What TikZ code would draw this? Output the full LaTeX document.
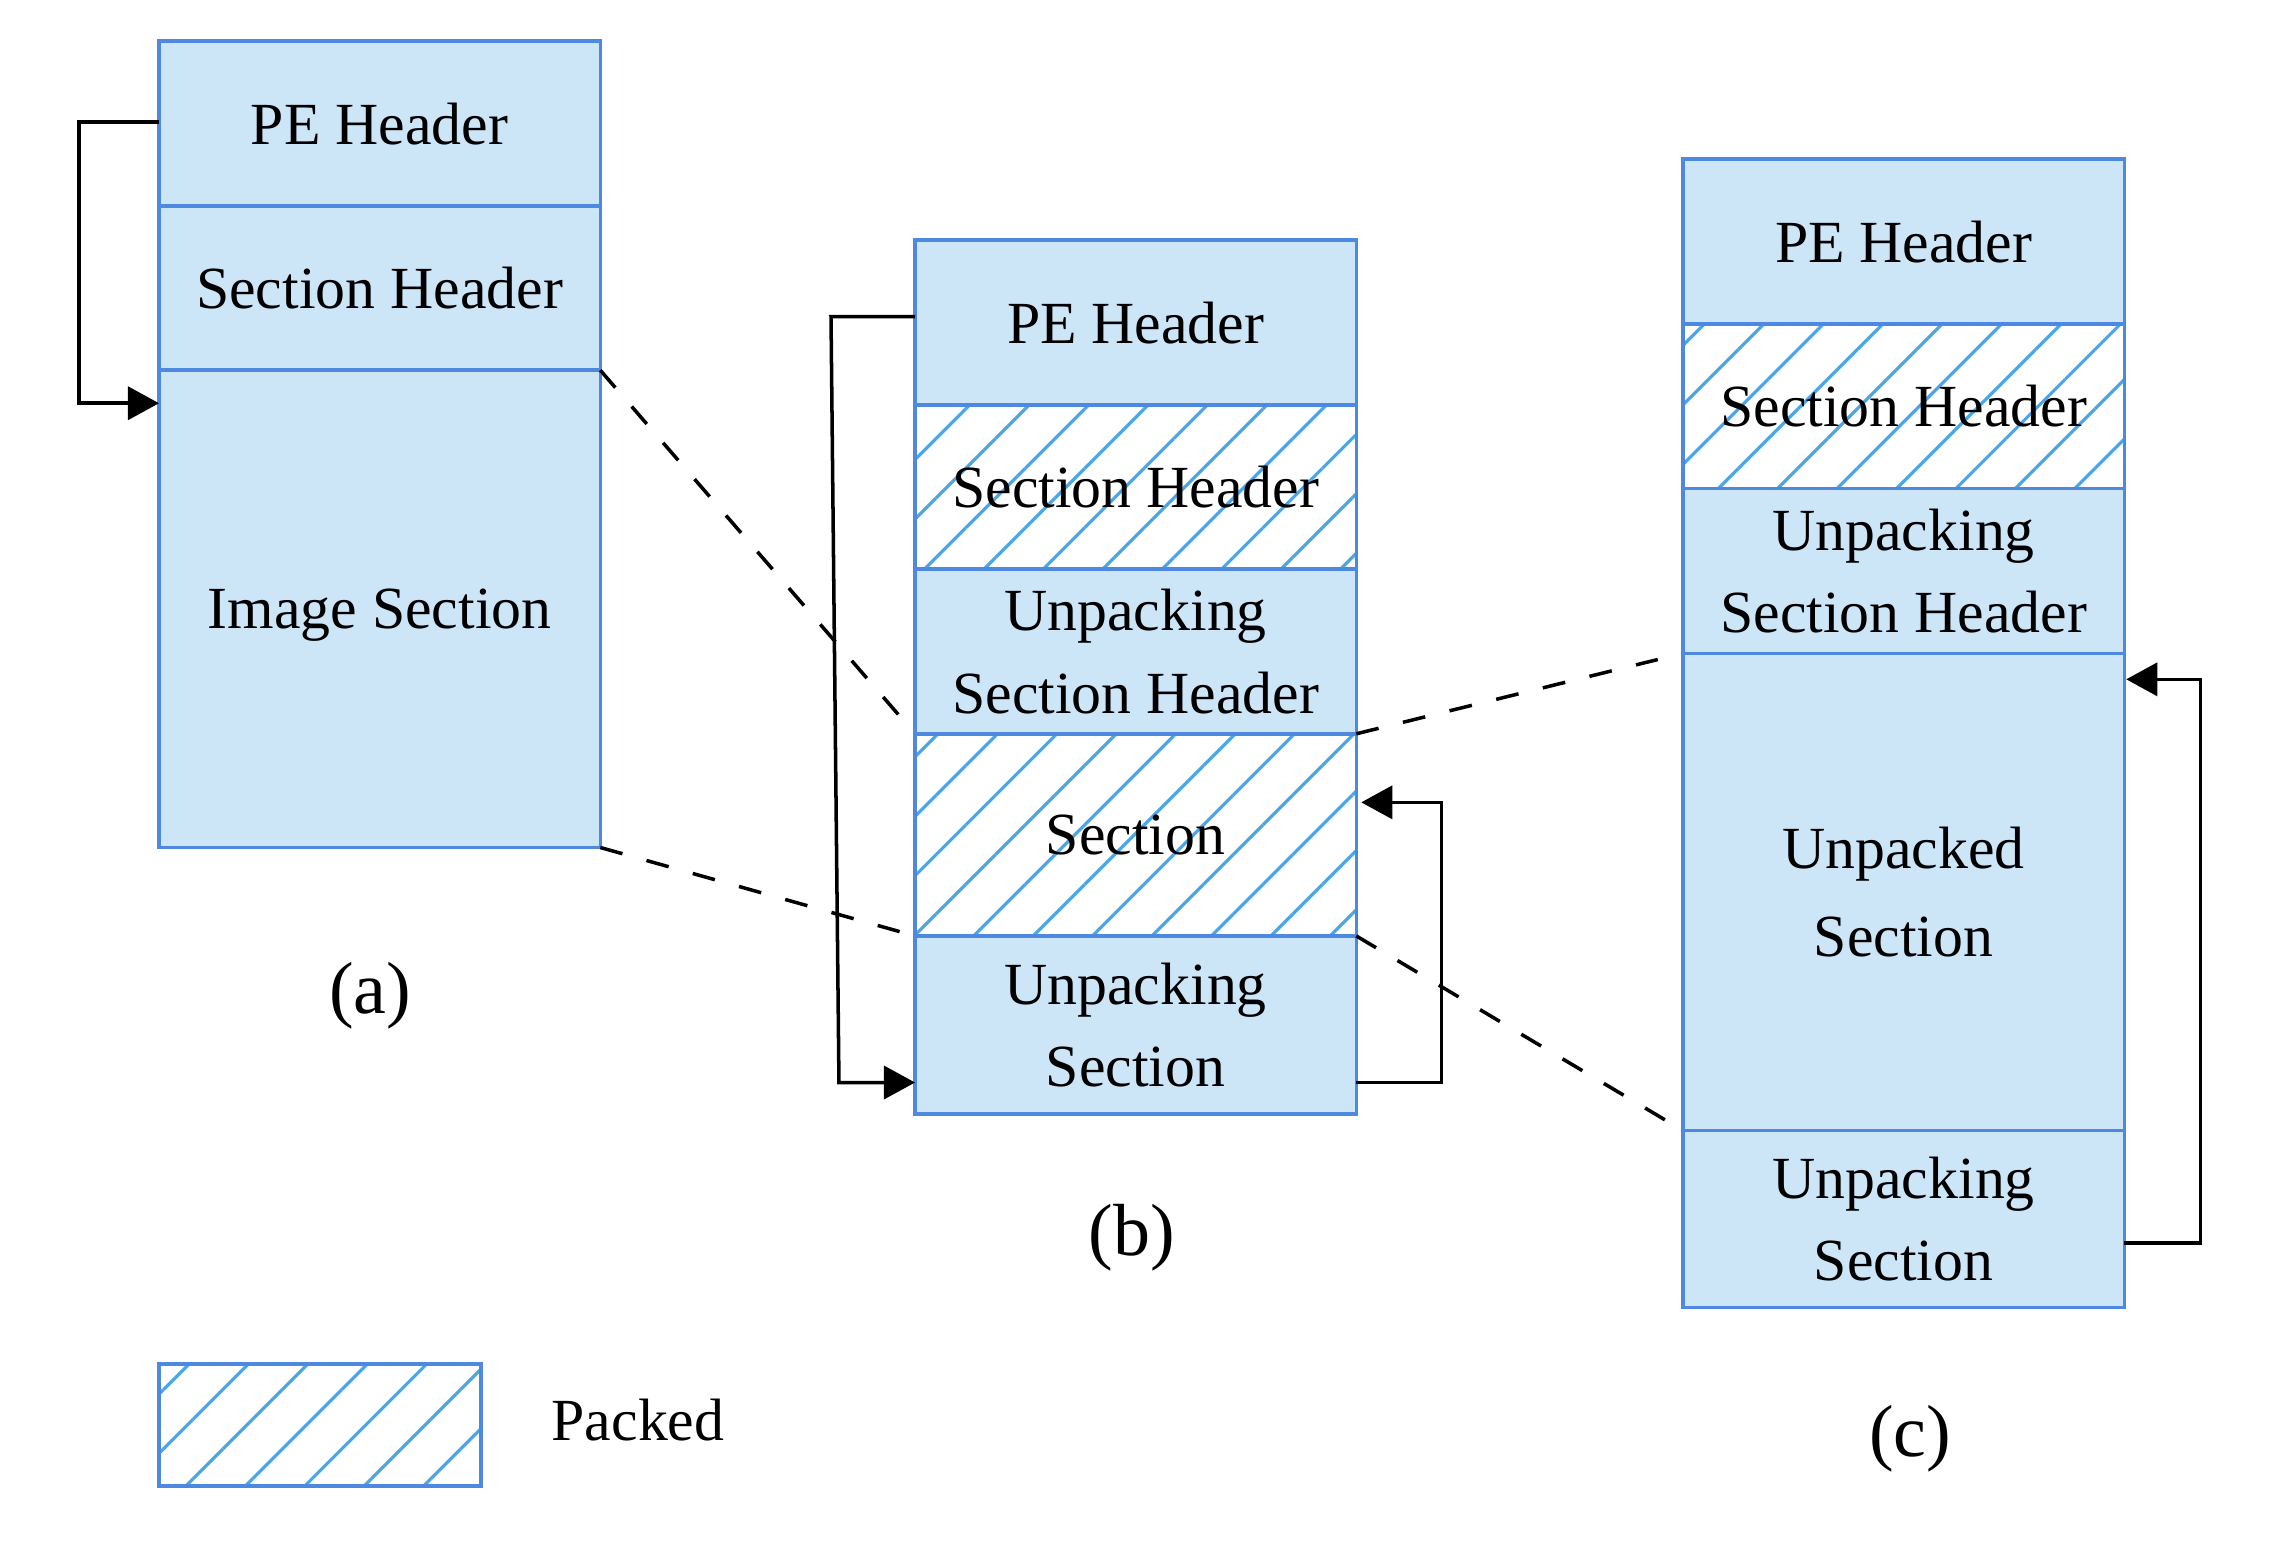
\documentclass[tikz,border=0pt]{standalone}
\usepackage{fontspec}
\setmainfont{Liberation Serif}
\usepackage{tikz}
\usetikzlibrary{positioning,arrows.meta,patterns.meta}
\definecolor{boxblue}{RGB}{77,136,225}
\definecolor{fillblue}{RGB}{204,230,248}
\definecolor{hatchblue}{RGB}{74,166,230}
\newcommand{\rowfont}{\fontsize{17}{23.5}\selectfont}
\newcommand{\capfont}{\fontsize{21}{25}\selectfont}

\begin{document}
\begin{tikzpicture}[x=0.01cm,y=-0.01cm,
    rowbase/.style={draw=boxblue, line width=1pt, minimum width=4.41cm, inner sep=0pt, outer sep=0pt, align=center, font=\rowfont},
    plain/.style={rowbase, fill=fillblue},
    packed/.style={rowbase, pattern={Lines[angle=45,distance=0.42cm,line width=0.9pt]}, pattern color=hatchblue},
    flow/.style={black, line width=1pt, -{Triangle[length=0.31cm,width=0.33cm]}},
    link/.style={black, line width=1pt, dash pattern=on 0.23cm off 0.25cm},
    caption/.style={font=\capfont}]
        \useasboundingbox (0,0) rectangle (2276,1553);

        % (a) original file
        \node[plain, minimum height=1.65cm, anchor=north west] (ape) at (159,41) {PE Header};
        \node[plain, minimum height=1.64cm, below=0pt of ape] (ash) {Section Header};
        \node[plain, minimum height=4.77cm, text depth=0pt, below=0pt of ash] (aimg) {Image Section};
        \node[caption] (capa) at (370,996) {(a)};

        % (b) packed file
        \node[plain, minimum height=1.65cm, anchor=north west] (bpe) at (915,240) {PE Header};
        \node[packed, minimum height=1.64cm, below=0pt of bpe] (bsh) {Section Header};
        \node[plain, minimum height=1.645cm, below=0pt of bsh] (bush) {Unpacking\\Section Header};
        \node[packed, minimum height=2.02cm, below=0pt of bush] (bsec) {Section};
        \node[plain, minimum height=1.78cm, below=0pt of bsec] (bus) {Unpacking\\Section};
        \node[caption] (capb) at (1132,1238) {(b)};

        % (c) unpacked in memory
        \node[plain, minimum height=1.65cm, anchor=north west] (cpe) at (1683,159) {PE Header};
        \node[packed, minimum height=1.645cm, below=0pt of cpe] (csh) {Section Header};
        \node[plain, minimum height=1.645cm, below=0pt of csh] (cush) {Unpacking\\Section Header};
        \node[plain, minimum height=4.77cm, below=0pt of cush] (cunp) {Unpacked\\[0.05cm]Section};
        \node[plain, minimum height=1.77cm, below=0pt of cunp] (cus) {Unpacking\\Section};
        \node[caption] (capc) at (1910,1439) {(c)};

        % Mapping between the layouts
        \draw[link, shorten >=0.2cm] (aimg.north east) -- (bsec.north west);
        \draw[link, shorten >=0.16cm] (aimg.south east) -- (bus.north west);
        \draw[link, shorten >=0.26cm] (bsec.north east) -- (cunp.north west);
        \draw[link, shorten >=0.21cm] (bsec.south east) -- (cus.north west);

        % Control flow
        \coordinate (atip) at ([yshift=2.055cm]aimg.west);
        \draw[flow] ([yshift=0.015cm]ape.west) -- ++(-80,0) |- (atip);

        \coordinate (bout) at ([yshift=0.06cm]bpe.west);
        \coordinate (bin) at ([yshift=-0.575cm]bus.west);
        \draw[flow] (bout) -- ++(-84,0) -- ([xshift=-0.76cm]bin) -- (bin);

        \coordinate (bret) at ([yshift=-0.575cm]bus.east);
        \coordinate (btip) at ([xshift=0.05cm,yshift=0.325cm]bsec.east);
        \draw[flow] (bret) -- ++(85,0) |- (btip);

        \coordinate (cret) at ([yshift=-0.24cm]cus.east);
        \coordinate (ctip) at ([xshift=0.02cm,yshift=2.125cm]cunp.east);
        \draw[flow] (cret) -- ++(76,0) |- (ctip);

        % Legend
        \node[packed, minimum width=3.22cm, minimum height=1.22cm] (legbox) at (320,1425) {};
        \node[font=\rowfont] (legtext) at (638,1420) {Packed};
    \end{tikzpicture}
\end{document}
